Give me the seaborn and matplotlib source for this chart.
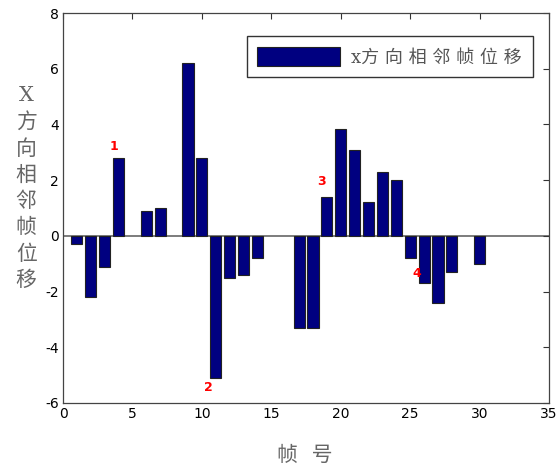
import matplotlib
matplotlib.use("Agg")
import matplotlib.pyplot as plt
import seaborn as sns
import pandas as pd

# frame numbers and x-direction displacement between adjacent frames
frames = [1, 2, 3, 4, 6, 7, 9, 10, 11, 12, 13, 14, 17, 18, 19, 20,
          21, 22, 23, 24, 25, 26, 27, 28, 30]
shift = [-0.3, -2.2, -1.1, 2.8, 0.9, 1.0, 6.2, 2.8, -5.1, -1.5, -1.4, -0.8,
         -3.3, -3.3, 1.4, 3.85, 3.1, 1.2, 2.3, 2.0, -0.8, -1.7, -2.4, -1.3, -1.0]

# numbered marks
mark_labels = ["1", "2", "3", "4"]
mark_x = [3.7, 10.5, 18.6, 25.5]
mark_y = [3.2, -5.45, 1.95, -1.35]

df = pd.DataFrame({"frame": frames, "shift": shift})

sns.set_style("white")
plt.rcParams["font.family"] = ["DejaVu Sans", "Noto Sans CJK SC"]
plt.rcParams["axes.unicode_minus"] = False

fig = plt.figure(figsize=(5.58, 4.68), dpi=100)
ax = fig.add_axes([0.113, 0.139, 0.871, 0.833])

sns.barplot(data=df, x="frame", y="shift", native_scale=True, width=0.8,
            color="#000080", saturation=1, edgecolor="#222222", linewidth=0.8,
            label="x方 向 相 邻 帧 位 移", ax=ax)

ax.axhline(0, color="#666666", lw=1.2, zorder=0)

ax.set_xlim(0, 35)
ax.set_ylim(-6, 8)
ax.set_xticks(range(0, 36, 5))
ax.set_yticks(range(-6, 9, 2))
ax.tick_params(direction="in", top=True, right=True, length=4, width=0.8,
               labelsize=10, colors="#333333", labelcolor="black", pad=3)
for s in ax.spines.values():
    s.set_color("#444444")
    s.set_linewidth(0.9)

for t, x, y in zip(mark_labels, mark_x, mark_y):
    ax.text(x, y, t, color="red", fontsize=9, fontweight="bold",
            ha="center", va="center")

ax.set_xlabel("")
ax.set_ylabel("")
fig.text(0.547, 0.028, "帧   号", fontsize=15, color="#666666",
         ha="center", va="center", family=["Noto Sans CJK SC"])
fig.text(0.047, 0.598, "X\n方\n向\n相\n邻\n帧\n位\n移", fontsize=15,
         color="#666666", ha="center", va="center", linespacing=1.45,
         family=["DejaVu Serif", "Noto Sans CJK SC"])

leg = ax.legend(loc="upper right", frameon=True, fancybox=False,
                handlelength=4.6, handleheight=1.3, borderpad=0.6,
                handletextpad=0.6, bbox_to_anchor=(0.985, 0.965),
                prop={"family": ["DejaVu Serif", "Noto Sans CJK SC"], "size": 13})
leg.get_frame().set_edgecolor("black")
leg.get_frame().set_linewidth(1.0)
for txt in leg.get_texts():
    txt.set_color("#555555")

fig.savefig("out.png", dpi=100)
